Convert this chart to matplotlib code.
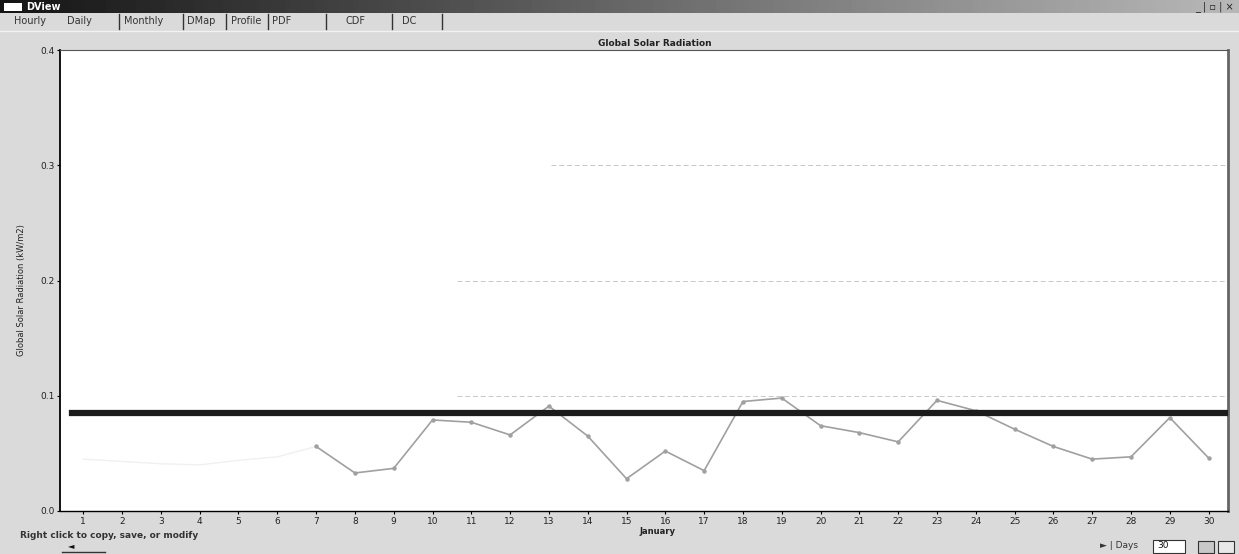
import numpy as np
import matplotlib.pyplot as plt
from matplotlib.patches import Rectangle

# daily global solar radiation, January
days = list(range(1, 31))
radiation = [0.045, 0.043, 0.041, 0.040, 0.044, 0.047, 0.056, 0.033, 0.037, 0.079,
             0.077, 0.066, 0.091, 0.065, 0.028, 0.052, 0.035, 0.095, 0.098, 0.074,
             0.068, 0.060, 0.096, 0.087, 0.071, 0.056, 0.045, 0.047, 0.081, 0.046]
faded_days = 7          # first week is almost washed out in the scan
mean_radiation = 0.085  # thick black reference line
y_ticks = [0.0, 0.1, 0.2, 0.3, 0.4]
grid_levels = [0.1, 0.2, 0.3]
tab_names = ['Hourly', 'Daily', 'Monthly', 'DMap', 'Profile', 'PDF', 'CDF', 'DC']

W, H = 1239, 554
bg = '#dadada'

fig = plt.figure(figsize=(W / 100, H / 100), dpi=100, facecolor=bg)

def px(x, y):
    return x / W, 1 - y / H

# window title bar
bar = fig.add_axes([0, 1 - 13 / H, 1, 13 / H])
bar.imshow(np.linspace(0.08, 0.72, 256)[None, :], cmap='gray', aspect='auto', vmin=0, vmax=1)
bar.axis('off')
fig.patches.append(Rectangle(px(4, 11), 18 / W, 8 / H, transform=fig.transFigure,
                             facecolor='white', edgecolor='none'))
fig.text(*px(26, 7), 'DView', color='white', fontsize=7, weight='bold', va='center')
fig.text(*px(1234, 7), '_ | ▫ | ×', color='#222222', fontsize=7, ha='right', va='center')

# tabs
tab_x = [14, 67, 124, 187, 231, 272, 345, 402]
sep_x = [119, 183, 226, 268, 326, 392, 442]
for name, x in zip(tab_names, tab_x):
    fig.text(*px(x, 21), name, fontsize=7, color='#333333', va='center')
for x in sep_x:
    fig.add_artist(plt.Line2D([x / W, x / W], [1 - 29 / H, 1 - 14 / H], color='#333333', lw=1))
fig.add_artist(plt.Line2D([0, 1], [1 - 31 / H, 1 - 31 / H], color='#f2f2f2', lw=1))

# chart
ax = fig.add_axes([60 / W, 1 - 511 / H, (1228 - 60) / W, (511 - 50) / H])
ax.set_facecolor('white')

for i, v in enumerate(grid_levels):
    ax.axhline(v, xmin=[0.34, 0.34, 0.42][i], color='#c8c8c8', lw=0.7, ls=(0, (5, 3)), zorder=1)

ax.plot(days[:faded_days], radiation[:faded_days], color='#f0f0f0', lw=1, zorder=2)
ax.plot(days[faded_days - 1:], radiation[faded_days - 1:], color='#a0a0a0', lw=1.2,
        marker='o', ms=2.2, zorder=2)
ax.axhline(mean_radiation, xmin=0.01, color='#1c1c1c', lw=4.5, zorder=3)

ax.set_xlim(0.4, 30.5)
ax.set_ylim(0, 0.4)
ax.set_xticks(days)
ax.set_xticklabels([str(d) for d in days], fontsize=6.5, color='#222222')
ax.set_yticks(y_ticks)
ax.set_yticklabels(['%.1f' % v for v in y_ticks], fontsize=6.5, color='#222222')
ax.tick_params(length=2, width=0.8, pad=2)
ax.spines['left'].set_linewidth(1.3)
ax.spines['bottom'].set_linewidth(1.0)
ax.spines['top'].set_color('#555555')
ax.spines['top'].set_linewidth(0.8)
ax.spines['right'].set_color('#666666')
ax.spines['right'].set_linewidth(2)

fig.text(*px(655, 44), 'Global Solar Radiation', fontsize=6.5, weight='bold',
         ha='center', va='center', color='#222222')
fig.text(*px(22, 290), 'Global Solar Radiation (kW/m2)', fontsize=6, rotation=90,
         ha='center', va='center', color='#222222')
fig.text(*px(657, 531), 'January', fontsize=6, weight='bold', ha='center', va='center',
         color='#222222')

# bottom controls
fig.text(*px(20, 535), 'Right click to copy, save, or modify', fontsize=6.5, weight='bold',
         color='#333333', va='center')
fig.text(*px(68, 546), '◄', fontsize=6, color='#111111', va='center')
fig.add_artist(plt.Line2D([62 / W, 105 / W], [1 - 552 / H, 1 - 552 / H], color='#333333', lw=1))
fig.text(*px(1100, 546), '► | Days', fontsize=6.5, color='#333333', va='center')
fig.patches.append(Rectangle(px(1153, 553), 32 / W, 13 / H, transform=fig.transFigure,
                             facecolor='white', edgecolor='#333333', lw=0.8))
fig.text(*px(1157, 546), '30', fontsize=6.5, color='#111111', va='center')
fig.patches.append(Rectangle(px(1198, 553), 16 / W, 12 / H, transform=fig.transFigure,
                             facecolor='#c8c8c8', edgecolor='#333333', lw=0.8))
fig.patches.append(Rectangle(px(1218, 553), 16 / W, 12 / H, transform=fig.transFigure,
                             facecolor='#e8e8e8', edgecolor='#333333', lw=0.8))

fig.savefig('out.png', dpi=100, facecolor=bg)
